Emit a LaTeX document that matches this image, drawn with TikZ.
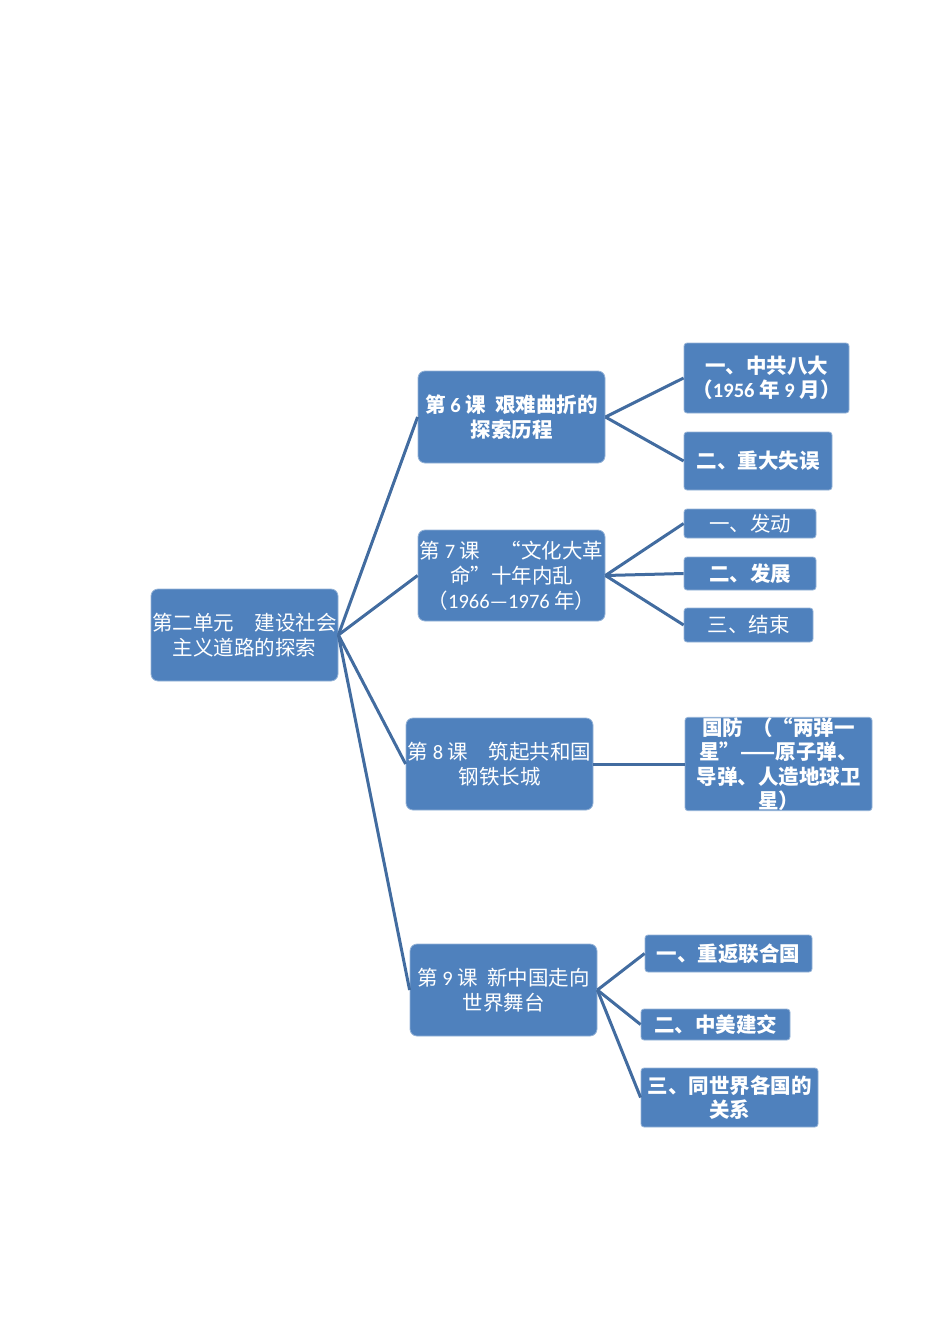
\documentclass[tikz,border=0pt]{standalone}
\usepackage{fontspec}
\newfontfamily\cjkfont{Noto Sans CJK SC}
\newfontfamily\latfont{Carlito}
\newcommand{\dgt}[1]{{\latfont #1}}
\usepackage{tikz}
\usetikzlibrary{positioning}
\definecolor{boxblue}{RGB}{79,129,189}
\definecolor{edgeblue}{RGB}{66,108,160}
\tikzset{
  topic/.style={rectangle, rounded corners=7pt, fill=boxblue, draw=boxblue!60!white, line width=0.8pt,
    text=white, inner sep=0pt, align=center, font=\cjkfont\fontsize{20.5}{25}\selectfont},
  subtopic/.style={topic, rounded corners=3pt},
  heavy/.style={font=\cjkfont\bfseries\fontsize{20.5}{24.5}\selectfont},
  branch/.style={draw=edgeblue, line width=3pt},
}

\begin{document}
\begin{tikzpicture}[x=1pt,y=-1pt]
  \useasboundingbox (0,0) rectangle (950,1344);

  % Define vertices
  \node[topic, minimum width=187pt, minimum height=92pt] (U) at (244.5,635) {第二单元　建设社会\\主义道路的探索};
  \node[topic, heavy, minimum width=187pt, minimum height=92pt] (L6) at (511.5,417) {第 \dgt{6} 课\ \ 艰难曲折的\\探索历程};
  \node[topic, minimum width=187pt, minimum height=91pt] (L7) at (511.5,575.5) {第 \dgt{7} 课　“文化大革\\命”十年内乱\\（\dgt{1966—1976} 年）};
  \node[topic, minimum width=187pt, minimum height=92pt] (L8) at (499.5,764) {第 \dgt{8} 课　筑起共和国\\钢铁长城};
  \node[topic, minimum width=187pt, minimum height=92pt] (L9) at (503.5,990) {第 \dgt{9} 课\ \ 新中国走向\\世界舞台};

  \node[subtopic, heavy, minimum width=165pt, minimum height=70pt] (A1) at (766.5,378) {一、中共八大\\（\dgt{1956} 年 \dgt{9} 月）};
  \node[subtopic, heavy, minimum width=148pt, minimum height=58pt] (A2) at (758,461) {二、重大失误};

  \node[subtopic, minimum width=132pt, minimum height=29pt] (B1) at (750,523.5) {一、发动};
  \node[subtopic, heavy, minimum width=132pt, minimum height=33pt] (B2) at (750,573.5) {二、发展};
  \node[subtopic, minimum width=129pt, minimum height=34pt] (B3) at (748.5,625) {三、结束};

  \node[subtopic, heavy, minimum width=187pt, minimum height=92pt] (C1) at (778.5,764) {国防\ \ （“两弹一\\星”——原子弹、\\导弹、人造地球卫\\星）};

  \node[subtopic, heavy, minimum width=167pt, minimum height=37pt] (D1) at (728.5,953.5) {一、重返联合国};
  \node[subtopic, heavy, minimum width=149pt, minimum height=31pt] (D2) at (715.5,1024.5) {二、中美建交};
  \node[subtopic, heavy, minimum width=177pt, minimum height=59pt] (D3) at (729.5,1097.5) {三、同世界各国的\\关系};

  % Draw edges
  \draw[branch] (U.east) -- (L6.west);
  \draw[branch] (U.east) -- (L7.west);
  \draw[branch] (U.east) -- (L8.west);
  \draw[branch] (U.east) -- (L9.west);
  \draw[branch] (L6.east) -- (A1.west);
  \draw[branch] (L6.east) -- (A2.west);
  \draw[branch] (L7.east) -- (B1.west);
  \draw[branch] (L7.east) -- (B2.west);
  \draw[branch] (L7.east) -- (B3.west);
  \draw[branch] (L8.east) -- (C1.west);
  \draw[branch] (L9.east) -- (D1.west);
  \draw[branch] (L9.east) -- (D2.west);
  \draw[branch] (L9.east) -- (D3.west);
\end{tikzpicture}
\end{document}
